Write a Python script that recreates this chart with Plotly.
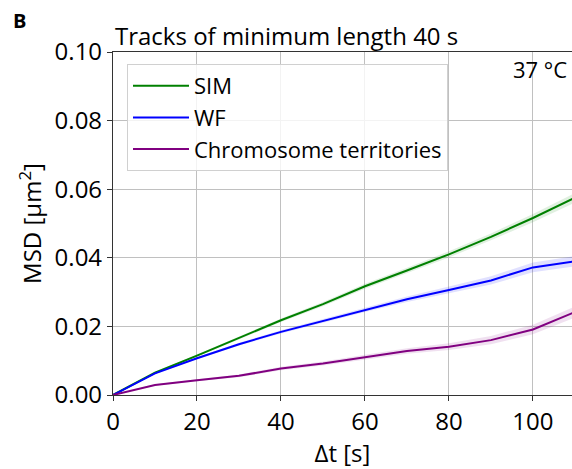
import plotly.graph_objects as go

# ---- data ----
dt = [0, 10, 20, 30, 40, 50, 60, 70, 80, 90, 100, 110]
sim = [0, 0.0065, 0.0115, 0.0166, 0.0218, 0.0265, 0.0317, 0.0363, 0.0410, 0.0461, 0.0516, 0.0575]
wf = [0, 0.0063, 0.0107, 0.0148, 0.0184, 0.0216, 0.0249, 0.0279, 0.0306, 0.0334, 0.0372, 0.0390]
ct = [0, 0.0029, 0.0043, 0.0056, 0.0077, 0.0092, 0.0110, 0.0128, 0.0141, 0.0160, 0.0191, 0.0242]
sim_err = [0, 0.0002, 0.0003, 0.0004, 0.0005, 0.0006, 0.0007, 0.0008, 0.0009, 0.0010, 0.0012, 0.0014]
wf_err = [0, 0.0002, 0.0003, 0.0004, 0.0005, 0.0006, 0.0007, 0.0008, 0.0010, 0.0012, 0.0014, 0.0015]
ct_err = [0, 0.0002, 0.0003, 0.0004, 0.0005, 0.0006, 0.0007, 0.0008, 0.0010, 0.0012, 0.0014, 0.0016]
names = ["SIM", "WF", "Chromosome territories"]
colors = ["#008000", "#0000ff", "#800080"]
fills = ["rgba(0,128,0,0.12)", "rgba(0,0,255,0.12)", "rgba(128,0,128,0.12)"]
x_ticks = [0, 20, 40, 60, 80, 100]
y_ticks = [0.00, 0.02, 0.04, 0.06, 0.08, 0.10]

FONT = "Open Sans"
fig = go.Figure()

series = [sim, wf, ct]
errs = [sim_err, wf_err, ct_err]
for vals, err, fc in zip(series, errs, fills):
    upper = [v + e for v, e in zip(vals, err)]
    lower = [v - e for v, e in zip(vals, err)]
    fig.add_trace(go.Scatter(x=dt + dt[::-1], y=upper + lower[::-1], fill="toself",
                             fillcolor=fc, line=dict(width=0), mode="lines",
                             showlegend=False, hoverinfo="skip"))
for vals, name, col in zip(series, names, colors):
    fig.add_trace(go.Scatter(x=dt, y=vals, mode="lines", name=name,
                             line=dict(color=col, width=2)))

W, H = 572, 469
L, R, T, B = 113, 0, 52, 74
pw, ph = W - L - R, H - T - B

def px(x):
    return (x - L) / pw

def py(y):
    return (H - B - y) / ph

fig.update_layout(
    width=W, height=H,
    margin=dict(l=L, r=R, t=T, b=B),
    plot_bgcolor="white", paper_bgcolor="white",
    font=dict(family=FONT, size=24, color="black"),
    showlegend=True,
    legend=dict(x=px(127), y=py(64), xanchor="left", yanchor="top",
                bgcolor="rgba(255,255,255,0.8)", bordercolor="#d0d0d0", borderwidth=1,
                font=dict(family=FONT, size=22, color="black"),
                itemwidth=56),
    xaxis=dict(range=[0, 109.3], tickvals=x_ticks, ticktext=[str(v) for v in x_ticks],
               showgrid=True, gridcolor="#c0c0c0", gridwidth=1.2,
               showline=True, linecolor="#333333", linewidth=1.2, mirror=True,
               ticks="outside", ticklen=5, tickcolor="#333333",
               zeroline=False,
               title=dict(text="Δt [s]", standoff=8, font=dict(size=24))),
    yaxis=dict(range=[0, 0.10], tickvals=y_ticks, ticktext=[f"{v:.2f}" for v in y_ticks],
               showgrid=True, gridcolor="#c0c0c0", gridwidth=1.2,
               showline=True, linecolor="#333333", linewidth=1.2,
               ticks="outside", ticklen=5, tickcolor="#333333",
               zeroline=False,
               title=dict(text="MSD [µm<sup>2</sup>]", standoff=6, font=dict(size=24))),
)

fig.add_annotation(text="<b>B</b>", xref="paper", yref="paper", x=px(11), y=py(20.5),
                   xanchor="left", yanchor="middle", showarrow=False,
                   font=dict(family=FONT, size=20, color="black"))
fig.add_annotation(text="<b>D</b>", xref="paper", yref="paper", x=px(11), y=py(481),
                   xanchor="left", yanchor="middle", showarrow=False,
                   font=dict(family=FONT, size=20, color="black"))
fig.add_annotation(text="Tracks of minimum length 40 s", xref="paper", yref="paper",
                   x=0, y=py(35), xanchor="left", yanchor="middle", showarrow=False,
                   font=dict(family=FONT, size=24, color="black"))
fig.add_annotation(text="37 °C", xref="paper", yref="paper", x=px(569), y=py(69),
                   xanchor="right", yanchor="middle", showarrow=False,
                   font=dict(family=FONT, size=22, color="black"))

fig.write_html("out.html")
